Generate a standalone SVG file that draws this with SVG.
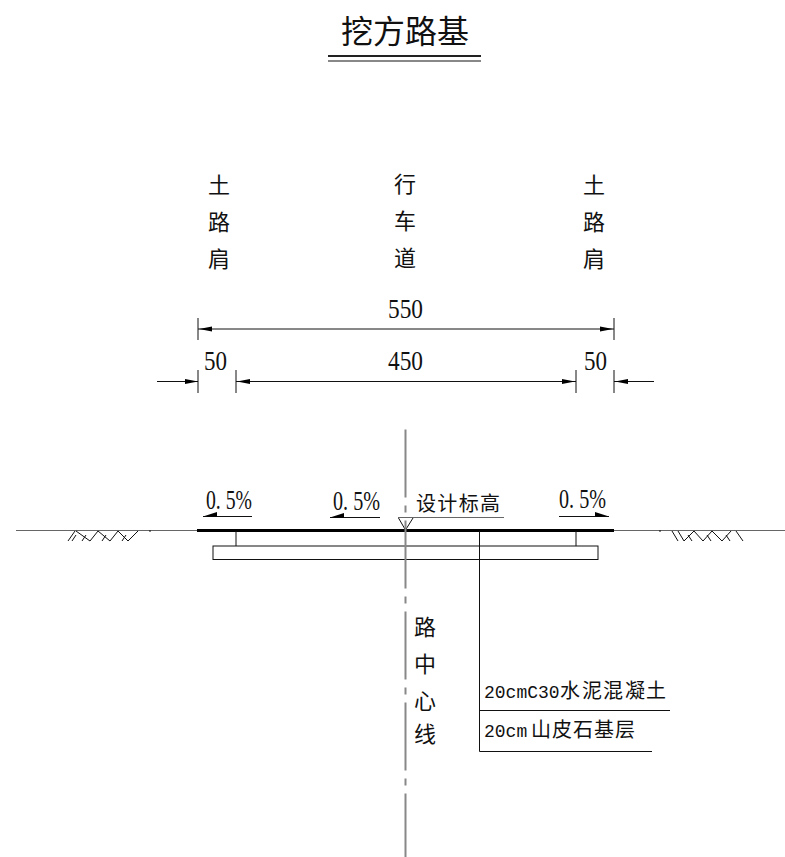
<svg xmlns="http://www.w3.org/2000/svg" width="785" height="857" viewBox="0 0 785 857">
<style>
.l{fill:none;stroke:#111;stroke-width:1}
.g{fill:none;stroke:#666;stroke-width:1}
.t{fill:none;stroke-width:2}
.h{fill:none;stroke:#000;stroke-width:3}
.a{fill:#000;stroke:none}
.cl{fill:none;stroke:#888;stroke-width:2;stroke-dasharray:68 8 7 8}
text{font-family:"Noto Sans CJK SC","Liberation Serif",serif;fill:#111}
.c{font-size:22px;text-anchor:middle}
.n{font-family:"Liberation Serif","Noto Sans CJK SC",serif;font-size:27px}
.s{font-size:20px}
.m{font-family:"Liberation Mono",monospace;font-size:18px}
</style>
<rect width="785" height="857" fill="#fff"/>
<g id="title">
<text x="405" y="43" font-size="32" text-anchor="middle" textLength="128">挖方路基</text>
<path class="t" stroke="#222" d="M328 56H481"/>
<path class="t" stroke="#888" d="M328 61H481"/>
</g>
<g id="label-shoulder-left">
<text class="c" x="219" y="193">土</text><text class="c" x="219" y="230">路</text><text class="c" x="219" y="267">肩</text>
</g>
<g id="label-lane">
<text class="c" x="405" y="192">行</text><text class="c" x="405" y="229">车</text><text class="c" x="405" y="266">道</text>
</g>
<g id="label-shoulder-right">
<text class="c" x="594" y="193">土</text><text class="c" x="594" y="230">路</text><text class="c" x="594" y="267">肩</text>
</g>
<g id="dim-550">
<path class="l" d="M198 318V340M614 318V340M198 329H614"/>
<path class="a" d="M199 329L212 326.500V331.500ZM613 329L600 326.500V331.500Z"/>
<text class="n" x="388" y="318" textLength="35" lengthAdjust="spacingAndGlyphs">550</text>
</g>
<g id="dim-450">
<path class="l" d="M198 370V393M236 370V393M576 370V393M614 370V393M157 381.500H198M236 381.500H576M614 381.500H654"/>
<path class="a" d="M198 381.500L185 379V384ZM237 381.500L250 379V384ZM575 381.500L562 379V384ZM615 381.500L628 379V384Z"/>
<text class="n" x="204" y="370" textLength="23" lengthAdjust="spacingAndGlyphs">50</text>
<text class="n" x="388" y="370" textLength="35" lengthAdjust="spacingAndGlyphs">450</text>
<text class="n" x="584" y="370" textLength="23" lengthAdjust="spacingAndGlyphs">50</text>
</g>
<g id="ground">
<path class="g" d="M16 530.500H197M614 530.500H785"/>
<path class="l" d="M68 541L75 531M72 541L76 535M76 531L90 541L98 531M82 541L86 535M98 531L110 541L118 531M102 541L106 535M118 531L128 541L138 531M122 541L126 535M150 530V532"/>
<path class="l" d="M660 530V532M672 531L678 541M678 531L684 541L694 531M688 535L692 541M694 531L703 541L712 531M707 535L711 541M712 531L722 541L731 531M726 535L730 541M736 531L743 541"/>
</g>
<g id="pavement">
<path class="h" d="M197 530.500H614"/>
<path class="l" d="M236 531V546M576 531V546"/>
<rect class="l" x="213" y="546" width="385" height="13.500"/>
</g>
<g id="slopes">
<path class="l" d="M203 516.500H252M330 517.500H380M559 516.500H609"/>
<path class="a" d="M203 516.500L217 512V516.500ZM330 517.500L344 513V517.500ZM609 516.500L595 512V516.500Z"/>
<text class="n" x="206" y="509" textLength="46" lengthAdjust="spacingAndGlyphs">0. 5%</text>
<text class="n" x="333" y="510" textLength="47" lengthAdjust="spacingAndGlyphs">0. 5%</text>
<text class="n" x="559" y="508" textLength="47" lengthAdjust="spacingAndGlyphs">0. 5%</text>
</g>
<g id="design-level">
<path class="g" d="M398 517.500H504"/>
<path class="l" d="M398.500 518L405.500 530L413 518"/>
<text class="s" x="416" y="511" textLength="84">设计标高</text>
</g>
<g id="centerline">
<path class="cl" d="M405.500 429.500V857"/>
<text class="c" x="425" y="635">路</text><text class="c" x="425" y="672">中</text><text class="c" x="425" y="709">心</text><text class="c" x="425" y="742">线</text>
</g>
<g id="leader">
<path class="l" d="M479.500 531V751.500H652M479.500 710.500H670"/>
<text class="s" y="698"><tspan class="m" x="484">20cmC30</tspan><tspan x="560 582 603 625 646">水泥混凝土</tspan></text>
<text class="s" y="737"><tspan class="m" x="484">20cm</tspan><tspan x="531 552 573 594 615">山皮石基层</tspan></text>
</g>
</svg>
